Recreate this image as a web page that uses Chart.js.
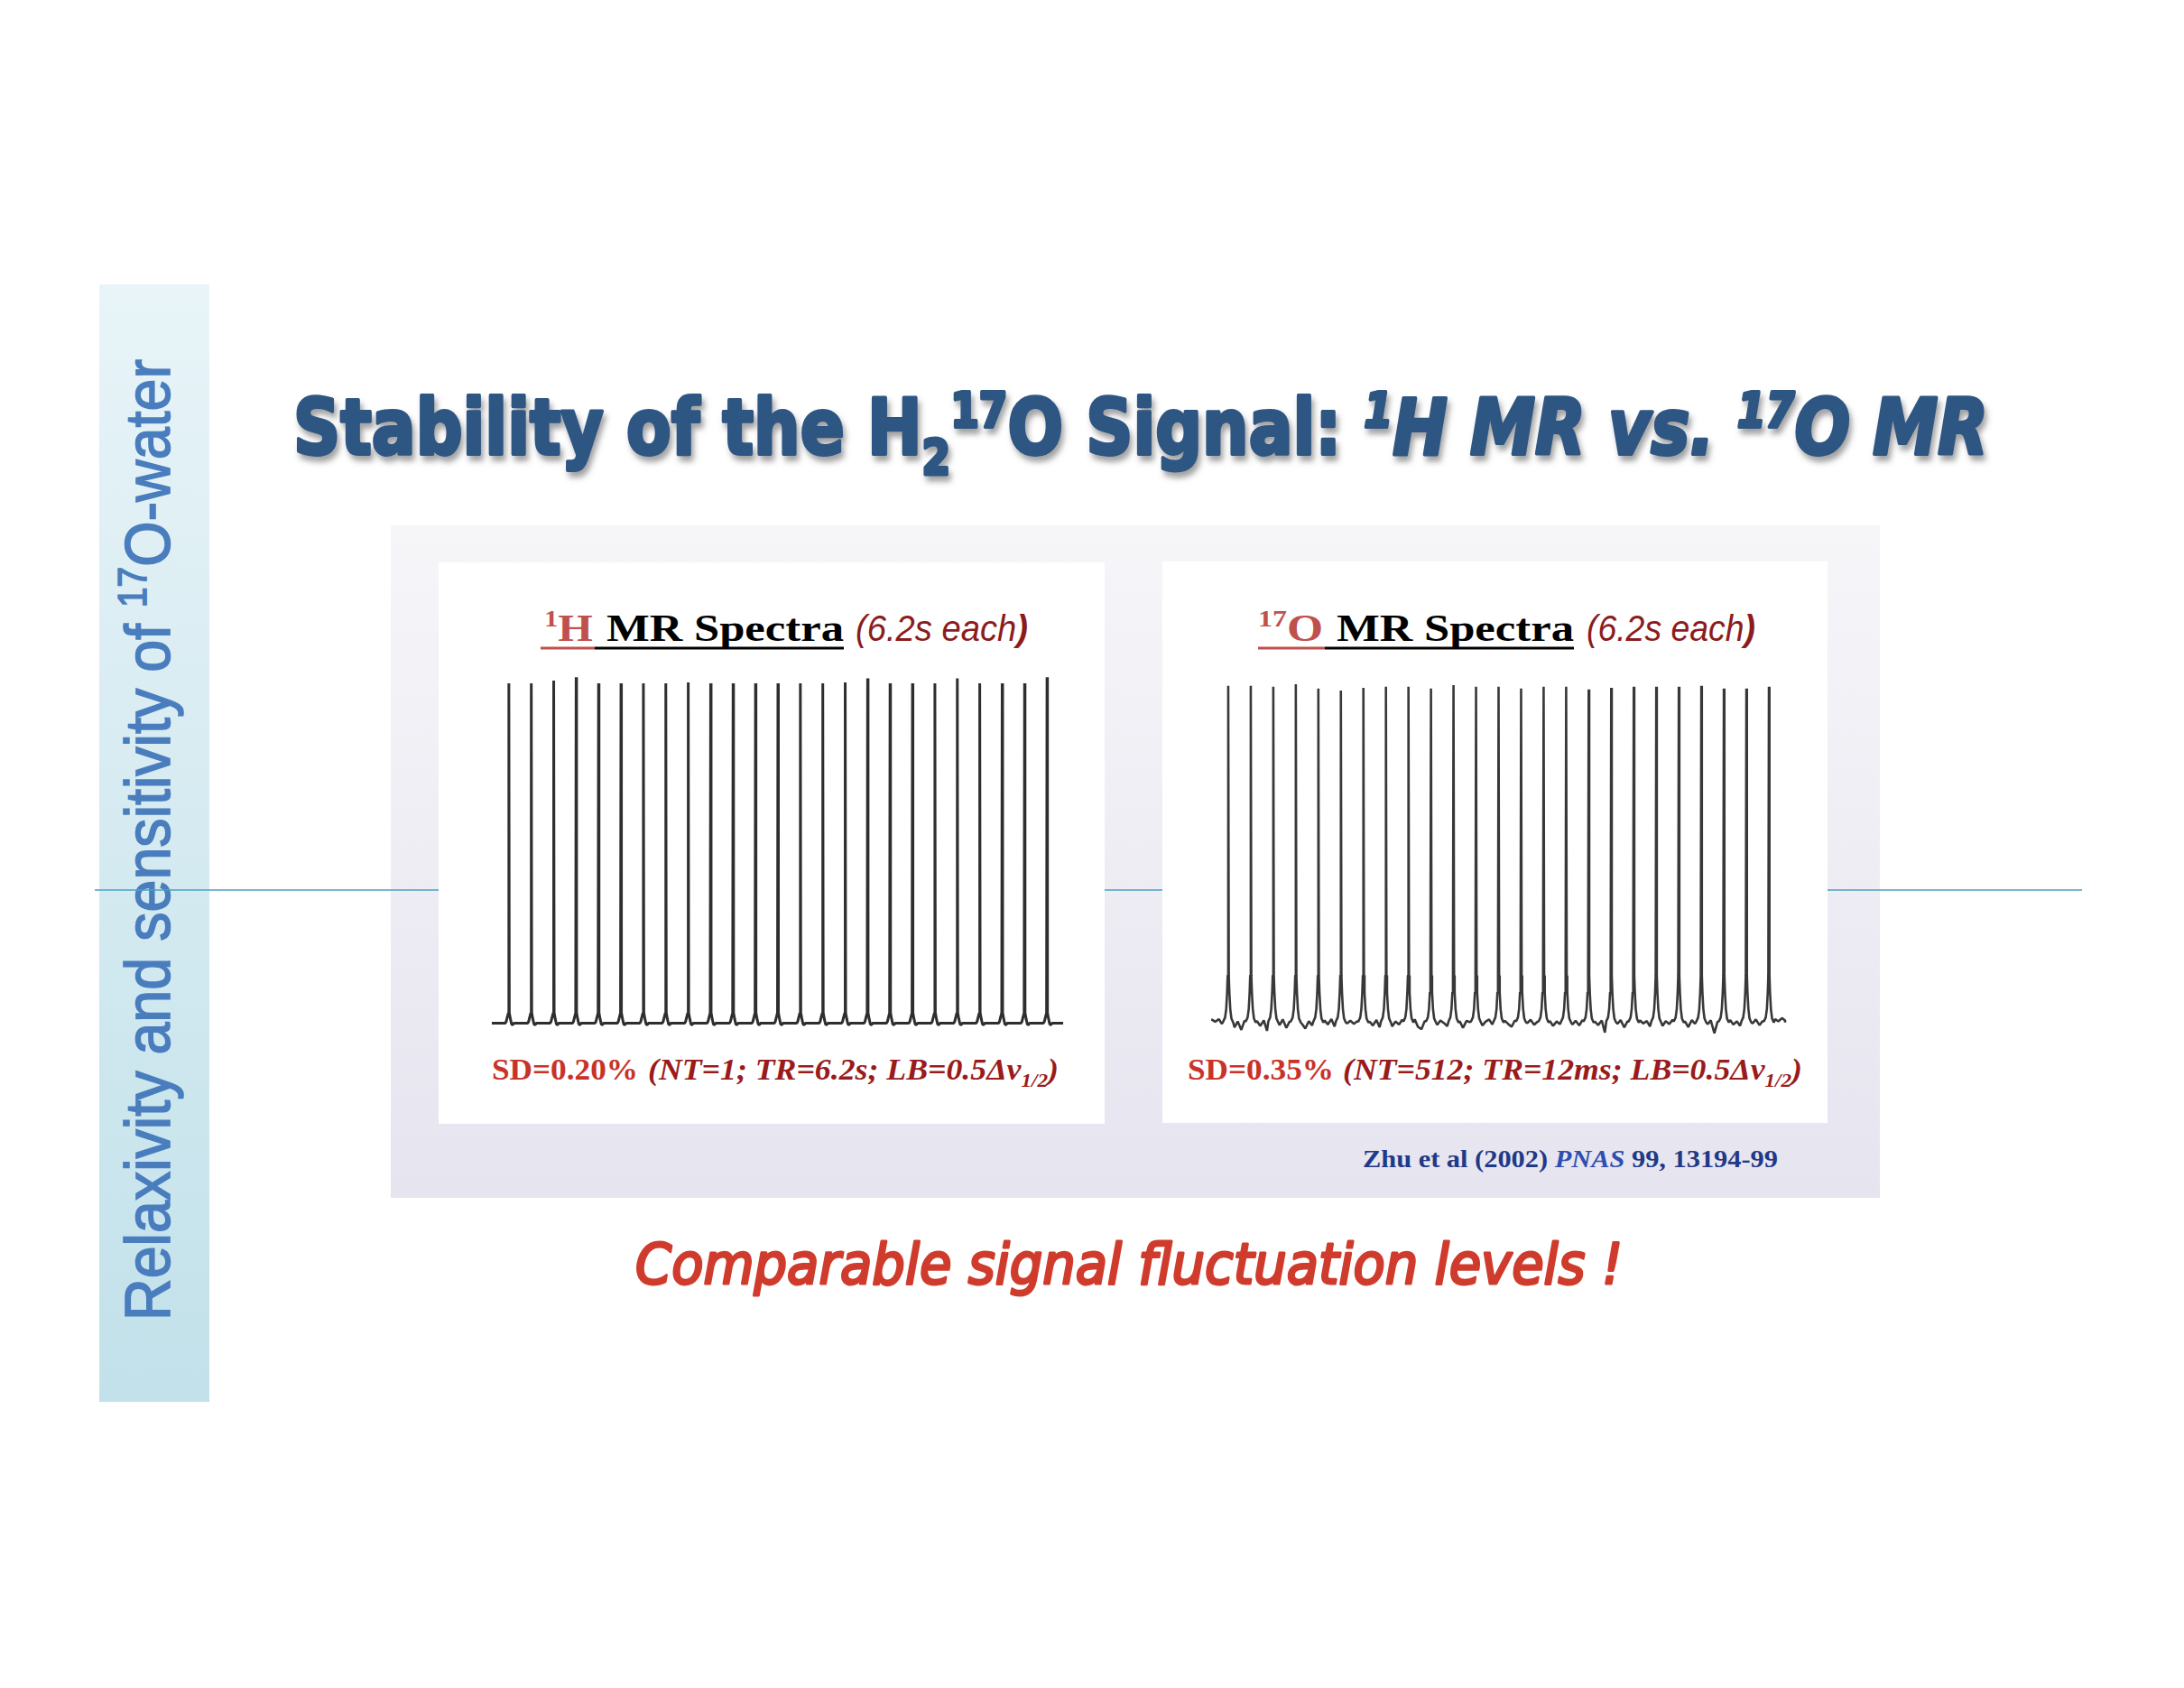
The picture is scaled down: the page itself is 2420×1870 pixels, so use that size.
<!DOCTYPE html>
<html>
<head>
<meta charset="utf-8">
<title>Stability of the H2 17O Signal</title>
<script src="https://cdn.jsdelivr.net/npm/chart.js@4.4.1/dist/chart.umd.min.js"></script>
<style>
  body { margin: 0; background: #ffffff; }
  #page { position: relative; width: 2420px; height: 1870px; overflow: hidden; background: #ffffff; }
  #slide { position: absolute; left: 0; top: 0; }
  canvas { position: absolute; }
</style>
</head>
<body>
<div id="page">
<svg id="slide" width="2420" height="1870" xmlns="http://www.w3.org/2000/svg">
  <defs>
    <linearGradient id="sideGrad" x1="0" y1="0" x2="0" y2="1">
      <stop offset="0" stop-color="#e8f4f8"/>
      <stop offset="1" stop-color="#c2e1ea"/>
    </linearGradient>
    <linearGradient id="boxGrad" x1="0" y1="0" x2="0" y2="1">
      <stop offset="0" stop-color="#f6f6f9"/>
      <stop offset="1" stop-color="#e6e4ef"/>
    </linearGradient>
    <filter id="titleShadow" x="-5%" y="-30%" width="110%" height="160%">
      <feDropShadow dx="3" dy="6" stdDeviation="3" flood-color="#555555" flood-opacity="0.55"/>
    </filter>
  </defs>

  <!-- side bar -->
  <rect x="110" y="315" width="122" height="1238" fill="url(#sideGrad)"/>
  <text transform="translate(188,1463) rotate(-90)" x="0" y="0"
        font-family="'Liberation Sans Narrow', 'Liberation Sans', sans-serif" font-size="70" fill="#4a7dbd"
        stroke="#4a7dbd" stroke-width="1.6"
        textLength="1065" lengthAdjust="spacingAndGlyphs">Relaxivity and sensitivity of <tspan font-size="44" dy="-26">17</tspan><tspan dy="26">O-water</tspan></text>

  <!-- title -->
  <text x="325" y="503" font-family="'DejaVu Sans', sans-serif" font-weight="bold" font-size="86" fill="#2e5683"
        stroke="#2e5683" stroke-width="4" stroke-linejoin="round"
        textLength="1878" lengthAdjust="spacingAndGlyphs" filter="url(#titleShadow)">Stability of the H<tspan font-size="54" dy="22">2</tspan><tspan font-size="54" dy="-52">17</tspan><tspan dy="30">O Signal: </tspan><tspan font-style="italic"><tspan font-size="54" dy="-30">1</tspan><tspan dy="30">H MR vs. </tspan><tspan font-size="54" dy="-30">17</tspan><tspan dy="30">O MR</tspan></tspan></text>

  <!-- grey frame + rule -->
  <rect x="433" y="582" width="1650" height="745" fill="url(#boxGrad)"/>
  <line x1="105" y1="986" x2="2307" y2="986" stroke="#4b9fc4" stroke-width="1.5"/>

  <!-- white panels -->
  <rect x="486" y="623" width="738" height="622" fill="#ffffff"/>
  <rect x="1288" y="622" width="737" height="622" fill="#ffffff"/>

  <!-- left panel texts -->
  <text x="603" y="710" font-family="'Liberation Serif', serif" font-weight="bold" font-size="42" fill="#c0504d"
        textLength="54" lengthAdjust="spacingAndGlyphs"><tspan font-size="26" dy="-16">1</tspan><tspan dy="16">H</tspan></text>
  <text x="672" y="710" font-family="'Liberation Serif', serif" font-weight="bold" font-size="42" fill="#000000"
        textLength="263" lengthAdjust="spacingAndGlyphs">MR Spectra</text>
  <text x="948" y="710" font-family="'Liberation Sans Narrow', 'Liberation Sans', sans-serif" font-style="italic" font-size="40" fill="#8c1c1c"
        textLength="191" lengthAdjust="spacingAndGlyphs">(6.2s each<tspan font-weight="bold">)</tspan></text>
  <line x1="599" y1="718" x2="659" y2="718" stroke="#c0504d" stroke-width="3"/>
  <line x1="659" y1="718" x2="935" y2="718" stroke="#000000" stroke-width="3"/>

  <text x="545" y="1196" font-family="'Liberation Serif', serif" font-weight="bold" font-size="34" fill="#c93327"
        textLength="162" lengthAdjust="spacingAndGlyphs">SD=0.20%</text>
  <text x="718" y="1196" font-family="'Liberation Serif', serif" font-weight="bold" font-style="italic" font-size="34" fill="#9a1b1b"
        textLength="455" lengthAdjust="spacingAndGlyphs">(NT=1; TR=6.2s; LB=0.5Δν<tspan font-size="22" dy="8">1/2</tspan><tspan dy="-8">)</tspan></text>

  <!-- right panel texts -->
  <text x="1394" y="710" font-family="'Liberation Serif', serif" font-weight="bold" font-size="42" fill="#c0504d"
        textLength="72" lengthAdjust="spacingAndGlyphs"><tspan font-size="26" dy="-16">17</tspan><tspan dy="16">O</tspan></text>
  <text x="1481" y="710" font-family="'Liberation Serif', serif" font-weight="bold" font-size="42" fill="#000000"
        textLength="263" lengthAdjust="spacingAndGlyphs">MR Spectra</text>
  <text x="1758" y="710" font-family="'Liberation Sans Narrow', 'Liberation Sans', sans-serif" font-style="italic" font-size="40" fill="#8c1c1c"
        textLength="187" lengthAdjust="spacingAndGlyphs">(6.2s each<tspan font-weight="bold">)</tspan></text>
  <line x1="1394" y1="718" x2="1468" y2="718" stroke="#c0504d" stroke-width="3"/>
  <line x1="1468" y1="718" x2="1744" y2="718" stroke="#000000" stroke-width="3"/>

  <text x="1316" y="1196" font-family="'Liberation Serif', serif" font-weight="bold" font-size="34" fill="#c93327"
        textLength="162" lengthAdjust="spacingAndGlyphs">SD=0.35%</text>
  <text x="1488" y="1196" font-family="'Liberation Serif', serif" font-weight="bold" font-style="italic" font-size="34" fill="#9a1b1b"
        textLength="509" lengthAdjust="spacingAndGlyphs">(NT=512; TR=12ms; LB=0.5Δν<tspan font-size="22" dy="8">1/2</tspan><tspan dy="-8">)</tspan></text>

  <!-- reference -->
  <text x="1510" y="1293" font-family="'Liberation Serif', serif" font-weight="bold" font-size="27" fill="#1f3a87"
        textLength="460" lengthAdjust="spacingAndGlyphs">Zhu et al (2002) <tspan font-style="italic" fill="#2e4fb0">PNAS</tspan> 99, 13194-99</text>

  <!-- conclusion -->
  <text x="704" y="1422" font-family="'DejaVu Sans', sans-serif" font-style="italic" font-size="62" fill="#cf3b2c"
        stroke="#cf3b2c" stroke-width="3" stroke-linejoin="round" textLength="1094" lengthAdjust="spacingAndGlyphs">Comparable signal fluctuation levels !</text>
</svg>

<canvas id="chartProton" width="646" height="414" style="left:539px;top:742px"></canvas>
<canvas id="chartOxygen" width="649" height="409" style="left:1336px;top:746px"></canvas>
</div>

<script>
console.log("[spectra] script loaded");

// scan number of each stacked spectrum (6.2 s each)
const scanNumbers = [1, 2, 3, 4, 5, 6, 7, 8, 9, 10, 11, 12, 13, 14, 15, 16, 17, 18, 19, 20, 21, 22, 23, 24, 25];

// peak heights (relative units, ~100)
const protonPeakHeights = [100, 100, 100.8, 101.8, 100, 100, 100, 100, 100.3, 100, 100, 100, 100,
                           100, 100, 100.3, 101.5, 100, 100, 100, 101.5, 100, 100, 100, 101.8];
const oxygenPeakHeights = [100.3, 100.3, 100, 100.8, 99.5, 98.9, 99.7, 100, 100, 99.5, 100.5, 100, 100,
                           99.5, 100, 100, 99.2, 99.7, 100, 100, 100, 100.3, 99.5, 99.5, 100];

// line shape around one peak: [offset from peak, intensity]; null = peak top
const protonLineShape = [[-0.16, 0], [-0.12, 0.4], [-0.06, 2.0], [-0.02, 3.0], [0, null],
                         [0.02, 3.0], [0.07, 1.2], [0.12, -0.3], [0.18, -0.5], [0.22, 0]];
const oxygenLineShape = [[-0.22, 0.3], [-0.14, 1.5], [-0.09, 4], [-0.05, 9], [-0.025, 14], [0, null],
                         [0.025, 14], [0.05, 9], [0.09, 4], [0.14, 1.2], [0.22, 0]];

// 17O baseline wiggles between peaks (4 readings per gap, 26 gaps)
const noiseOffsets = [0.28, 0.42, 0.58, 0.72];
const oxygenBaselineNoise = [
    [0.8, 0.2, 1.0, -0.4], [-1.5, 0.3, -2.2, 0.5], [0.4, -1.0, 0.6, -2.5], [-0.8, 0.9, -1.6, 0.2],
    [-0.5, -1.8, 0.4, -0.9], [0.6, -0.6, 1.0, -1.2], [-0.3, 0.5, -0.4, 0.3], [0.2, -0.9, 0.7, -1.4],
    [-1.2, 0.3, -0.6, 0.8], [0.9, -1.3, -2.0, 0.4], [-0.7, 0.6, -0.2, -1.1], [0.3, -1.6, 0.5, 0.1],
    [-0.9, 0.2, 0.9, -0.6], [0.5, -0.4, -1.3, 0.6], [-0.2, 0.8, -0.7, 0.2], [0.4, -1.0, 0.3, -0.5],
    [-0.6, 0.5, -0.9, 0.7], [0.2, -0.8, 0.6, -3.0], [-0.4, 0.7, -1.5, 0.3], [0.6, -0.3, 0.4, -1.2],
    [-1.0, 0.4, -0.5, 0.8], [0.3, -1.4, 0.7, -0.4], [-0.5, 0.6, -3.2, 0.2], [0.7, -0.6, 0.3, -1.0],
    [-0.3, 0.9, -0.8, 0.4], [1.0, 0.3, 1.3, 0.6],
];

const spectrumStart = 0.24;
const spectrumEnd = 25.72;

function buildSpectrum(heights, shape, noise) {
    const points = [{ x: spectrumStart, y: noise ? noise[0][0] : 0 }];
    scanNumbers.forEach((scan, i) => {
        if (noise) {
            noiseOffsets.forEach((off, k) => points.push({ x: scan - 1 + off, y: noise[i][k] }));
        }
        shape.forEach(([dx, y]) => points.push({ x: scan + dx, y: y === null ? heights[i] : y }));
    });
    if (noise) {
        const last = scanNumbers[scanNumbers.length - 1];
        noiseOffsets.forEach((off, k) => points.push({ x: last + off, y: noise[scanNumbers.length][k] }));
    }
    points.push({ x: spectrumEnd, y: 0 });
    return points;
}

let charts = {};

function renderSpectrum(canvasId, points, color, width) {
    const canvas = document.getElementById(canvasId);
    if (!canvas) {
        console.warn(`[spectra] no canvas #${canvasId}`);
        return;
    }
    if (charts[canvasId]) charts[canvasId].destroy();

    charts[canvasId] = new Chart(canvas.getContext('2d'), {
        type: 'line',
        data: {
            datasets: [{
                data: points,
                borderColor: color,
                borderWidth: width,
                borderJoinStyle: 'bevel',
                pointRadius: 0,
                tension: 0,
                fill: false,
                clip: false,
            }],
        },
        options: {
            responsive: false,
            animation: false,
            devicePixelRatio: 1,
            events: [],
            layout: { padding: 0 },
            plugins: {
                legend: { display: false },
                tooltip: { enabled: false },
            },
            scales: {
                x: { type: 'linear', display: false, min: 0, max: 26 },
                y: { display: false, min: -6, max: 104 },
            },
        },
    });
}

renderSpectrum('chartProton', buildSpectrum(protonPeakHeights, protonLineShape, null), '#2e2e2e', 3);
renderSpectrum('chartOxygen', buildSpectrum(oxygenPeakHeights, oxygenLineShape, oxygenBaselineNoise), '#383838', 2.6);
</script>
</body>
</html>
